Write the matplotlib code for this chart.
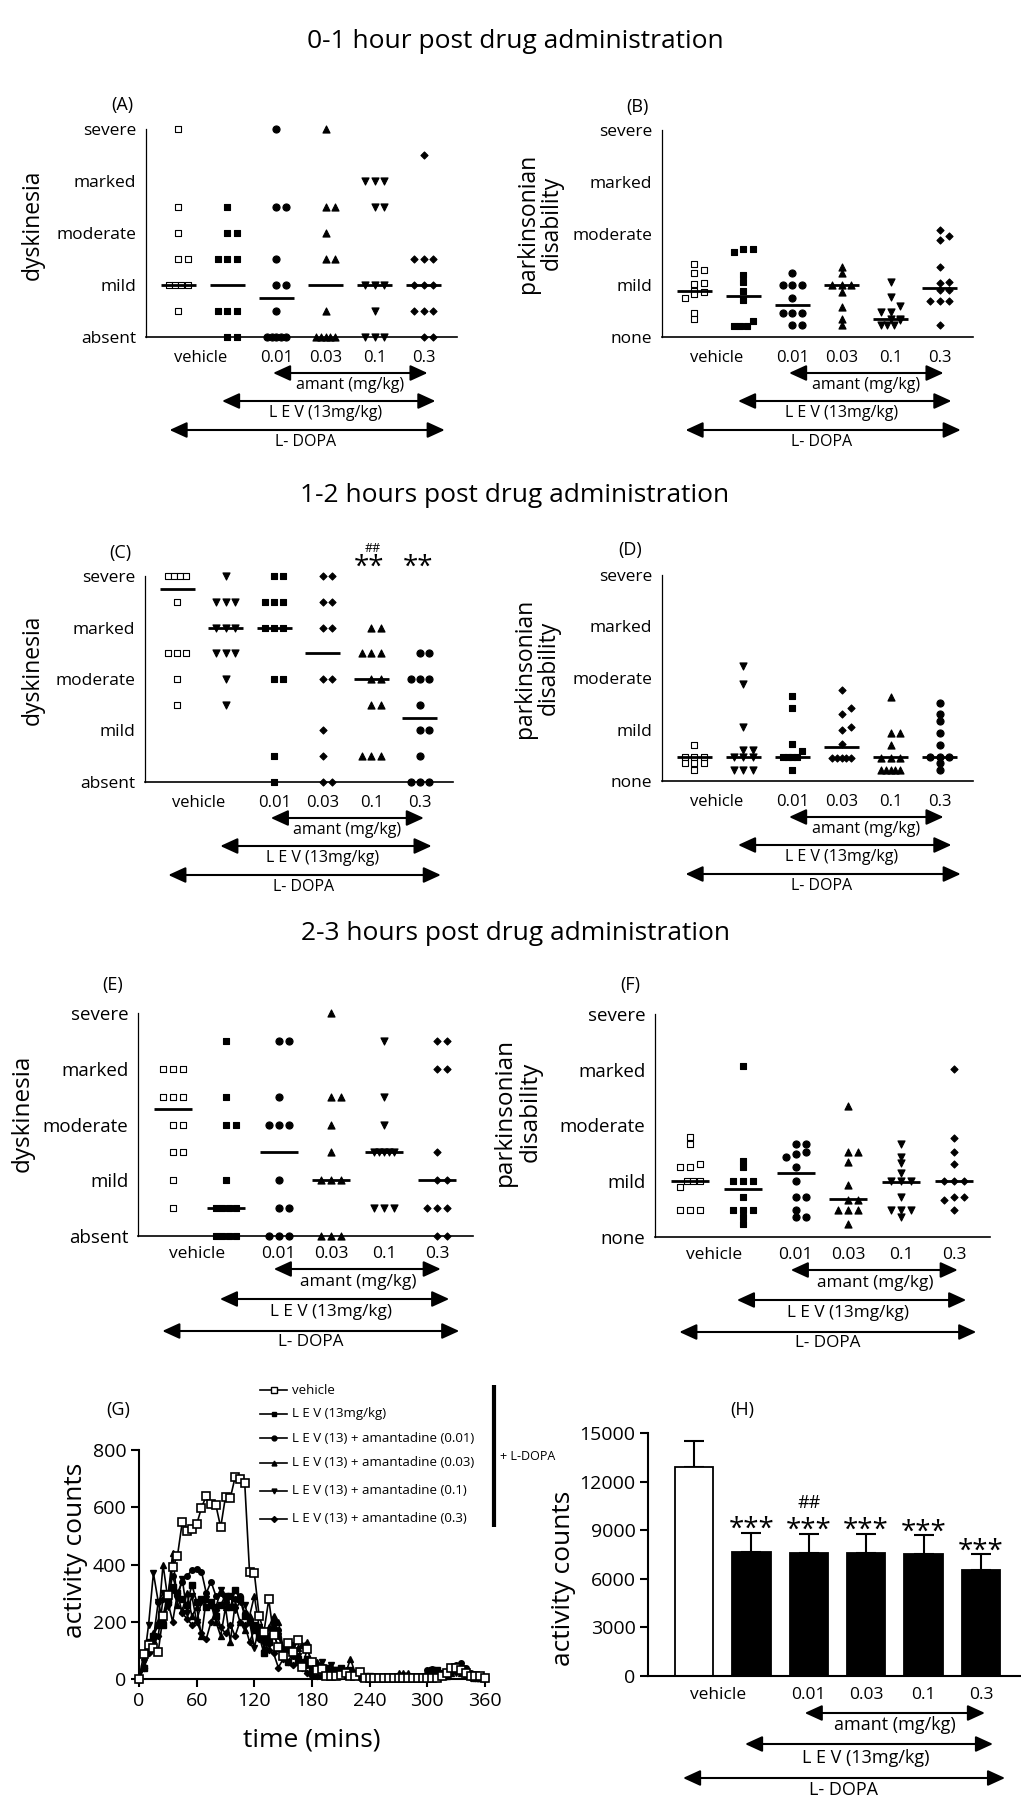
import numpy as np
import matplotlib.pyplot as plt
from matplotlib import transforms

plt.rcParams['font.family'] = ['Open Sans', 'DejaVu Sans']

# ---------------- data ----------------
# ordinal scores: 0 = absent/none, 1 = mild, 2 = moderate, 3 = marked, 4 = severe
dysk_levels = ['absent', 'mild', 'moderate', 'marked', 'severe']
park_levels = ['none', 'mild', 'moderate', 'marked', 'severe']
dose_labels = ['0.01', '0.03', '0.1', '0.3']

# 0-1 h
A_vals = [[4, 2.5, 2, 1.5, 1.5, 1, 1, 1, 1, 0.5],
          [2.5, 2, 2, 1.5, 1.5, 1.5, 0.5, 0.5, 0.5, 0, 0],
          [4, 2.5, 2.5, 1.5, 1, 1, 0.5, 0, 0, 0, 0, 0],
          [4, 2.5, 2.5, 2, 1.5, 1.5, 0.5, 0, 0, 0, 0, 0],
          [3, 3, 3, 2.5, 2.5, 1, 1, 1, 0.5, 0, 0, 0],
          [3.5, 1.5, 1.5, 1.5, 1, 1, 1, 0.5, 0.5, 0.5, 0, 0]]
A_med = [1, 1, 0.75, 1, 1, 1]
B_vals = [[1.42, 1.29, 1.24, 1.05, 1.03, 0.88, 0.87, 0.83, 0.76, 0.46, 0.35],
          [1.71, 1.65, 1.71, 1.19, 1.06, 0.89, 0.71, 0.3, 0.22, 0.22, 0.22],
          [1.24, 1.0, 1.0, 1.0, 0.76, 0.46, 0.46, 0.46, 0.23, 0.23],
          [1.35, 1.24, 1.0, 1.0, 1.0, 0.87, 0.58, 0.35, 0.23],
          [1.06, 0.77, 0.59, 0.48, 0.48, 0.35, 0.35, 0.32, 0.23, 0.23, 0.23],
          [2.06, 1.95, 1.88, 1.35, 1.06, 1.05, 0.9, 0.9, 0.7, 0.7, 0.7, 0.23]]
B_med = [0.88, 0.79, 0.61, 1.0, 0.35, 0.94]

# 1-2 h
C_vals = [[4, 4, 4, 4, 3.5, 2.5, 2.5, 2.5, 2, 1.5],
          [4, 3.5, 3.5, 3.5, 3, 3, 3, 2.5, 2.5, 2.5, 2, 1.5],
          [4, 4, 3.5, 3.5, 3.5, 3, 3, 3, 2, 2, 0.5, 0],
          [4, 4, 3.5, 3.5, 3, 3, 2, 2, 1, 0.5, 0, 0],
          [3, 3, 2.5, 2.5, 2.5, 2, 2, 1.5, 1.5, 0.5, 0.5, 0.5],
          [2.5, 2.5, 2, 2, 2, 1.5, 1, 1, 0.5, 0, 0, 0]]
C_med = [3.75, 3, 3, 2.5, 2, 1.25]
D_vals = [[0.69, 0.47, 0.47, 0.47, 0.35, 0.35, 0.35, 0.22],
          [2.24, 1.89, 1.05, 0.6, 0.6, 0.47, 0.47, 0.47, 0.22, 0.22, 0.22],
          [1.65, 1.41, 0.71, 0.58, 0.47, 0.47, 0.47, 0.47, 0.22],
          [1.76, 1.41, 1.3, 1.05, 1.0, 0.71, 0.45, 0.45, 0.45, 0.45, 0.45],
          [1.63, 0.93, 0.93, 0.69, 0.45, 0.45, 0.45, 0.22, 0.22, 0.22, 0.22, 0.22],
          [1.52, 1.3, 1.17, 0.93, 0.69, 0.47, 0.47, 0.47, 0.34, 0.22]]
D_med = [0.47, 0.47, 0.47, 0.66, 0.47, 0.47]

# 2-3 h
E_vals = [[3, 3, 3, 2.5, 2.5, 2.5, 2, 2, 1.5, 1.5, 1, 0.5],
          [3.5, 2.5, 2, 2, 1, 0.5, 0.5, 0.5, 0.5, 0, 0, 0, 0],
          [3.5, 3.5, 2.5, 2, 2, 2, 1, 0.5, 0.5, 0, 0, 0],
          [4, 2.5, 2.5, 2, 1.5, 1, 1, 1, 0, 0, 0],
          [3.5, 2.5, 2, 1.5, 1.5, 1.5, 1.5, 1.5, 0.5, 0.5, 0.5],
          [3.5, 3.5, 3, 3, 1.5, 1, 1, 0.5, 0.5, 0.5, 0, 0]]
E_med = [2.27, 0.5, 1.5, 1, 1.5, 1]
F_vals = [[1.8, 1.67, 1.31, 1.26, 1.26, 1.0, 1.0, 1.0, 0.89, 0.48, 0.48, 0.48],
          [3.07, 1.37, 1.25, 1.0, 1.0, 1.0, 0.71, 0.48, 0.48, 0.48, 0.36, 0.24],
          [1.67, 1.67, 1.53, 1.49, 1.44, 1.26, 1.0, 0.71, 0.71, 0.48, 0.36, 0.36],
          [2.35, 1.53, 1.53, 1.35, 0.94, 0.67, 0.67, 0.48, 0.48, 0.48, 0.24],
          [1.67, 1.44, 1.32, 1.14, 1.0, 1.0, 1.0, 0.72, 0.48, 0.48, 0.48, 0.36],
          [3.02, 1.78, 1.53, 1.31, 1.0, 1.0, 1.0, 0.71, 0.71, 0.67, 0.48]]
F_med = [1.0, 0.86, 1.14, 0.68, 0.98, 1.0]

# time course, 5-min bins 0..360
time = np.arange(0, 365, 5)
act_vehicle = [0, 88, 120, 110, 95, 220, 295, 390, 430, 548,
               518, 525, 540, 598, 640, 612, 607, 530, 637, 632,
               705, 698, 685, 375, 370, 220, 165, 278, 155, 112,
               80, 125, 95, 135, 42, 105, 60, 30, 35, 10,
               10, 10, 15, 20, 10, 12, 25, 5, 5, 5,
               5, 5, 5, 5, 5, 5, 5, 5, 5, 5,
               5, 5, 5, 10, 20, 40, 40, 30, 20, 10,
               10, 10, 5]
act_lev = [0, 40, 130, 150, 190, 190, 270, 320, 300, 280,
           260, 330, 270, 280, 250, 270, 220, 260, 290, 250,
           310, 280, 220, 200, 190, 150, 90, 130, 160, 110,
           80, 60, 90, 70, 50, 70, 40, 40, 30, 40,
           20, 30, 40, 20, 30, 20, 10, 10, 10, 5,
           5, 5, 5, 5, 5, 5, 5, 5, 5, 5,
           10, 30, 30, 20, 20, 30, 40, 30, 20, 10,
           10, 5, 5]
act_a001 = [0, 40, 110, 140, 270, 200, 280, 360, 300, 340,
            360, 380, 385, 375, 300, 340, 290, 300, 270, 290,
            280, 290, 230, 200, 170, 170, 150, 150, 200, 170,
            100, 110, 80, 60, 60, 50, 30, 30, 40, 40,
            30, 20, 20, 30, 20, 10, 10, 10, 5, 5,
            5, 5, 5, 5, 5, 10, 10, 10, 10, 10,
            30, 35, 30, 20, 25, 40, 50, 55, 40, 20,
            10, 10, 5]
act_a003 = [0, 50, 100, 160, 200, 400, 280, 440, 260, 240,
            300, 220, 250, 150, 280, 260, 200, 150, 250, 130,
            260, 200, 170, 220, 290, 180, 110, 180, 220, 200,
            110, 110, 90, 110, 120, 130, 20, 60, 50, 40,
            20, 20, 30, 20, 70, 20, 10, 10, 5, 5,
            5, 10, 10, 10, 20, 20, 20, 10, 10, 10,
            10, 10, 10, 10, 10, 20, 30, 20, 20, 10,
            5, 5, 5]
act_a01 = [0, 60, 190, 370, 270, 300, 250, 310, 280, 350,
           230, 290, 200, 270, 280, 260, 250, 310, 270, 290,
           240, 270, 260, 200, 110, 180, 130, 120, 180, 150,
           100, 100, 120, 80, 60, 60, 40, 30, 60, 40,
           50, 30, 20, 10, 10, 10, 5, 5, 5, 5,
           5, 5, 5, 5, 5, 5, 5, 5, 5, 5,
           5, 10, 10, 10, 10, 20, 20, 30, 10, 5,
           5, 5, 5]
act_a03 = [0, 40, 90, 130, 150, 280, 270, 200, 300, 230,
           210, 190, 200, 160, 140, 200, 240, 180, 160, 190,
           150, 200, 190, 130, 170, 140, 130, 100, 90, 40,
           70, 60, 50, 60, 40, 20, 10, 10, 10, 10,
           10, 10, 10, 10, 10, 10, 5, 5, 5, 5,
           5, 5, 5, 5, 5, 5, 5, 5, 5, 5,
           5, 5, 5, 10, 10, 20, 30, 20, 10, 5,
           5, 5, 5]
legend_labels = ['vehicle', 'L E V (13mg/kg)', 'L E V (13) + amantadine (0.01)',
                 'L E V (13) + amantadine (0.03)', 'L E V (13) + amantadine (0.1)',
                 'L E V (13) + amantadine (0.3)']

# total activity
total_mean = [12900, 7660, 7620, 7620, 7560, 6540]
total_sem = [1610, 1190, 1170, 1150, 1130, 970]

# ---------------- layout ----------------
W, H = 1021, 1800
fig = plt.figure(figsize=(W / 100, H / 100), dpi=100)


def rect(l, t, r, b):
    return [l / W, 1 - b / H, (r - l) / W, (b - t) / H]


ov = fig.add_axes([0, 0, 1, 1], zorder=10)
ov.set_xlim(0, W)
ov.set_ylim(H, 0)
ov.axis('off')

marker_shape = {'open': 's', 's': 's', 'o': 'o', '^': '^', 'v': 'v', 'D': 'D'}
marker_size = {'open': 22, 's': 22, 'o': 26, '^': 26, 'v': 26, 'D': 13}
order1 = ['open', 's', 'o', '^', 'v', 'D']
order2 = ['open', 'v', 's', 'D', '^', 'o']


def spread(v, tol=0.11, d=0.19):
    # column scatter: points closer than a marker height share a row
    v = np.asarray(v, float)
    idx = np.argsort(v, kind='stable')
    rows = []
    for i in idx:
        if rows and v[i] - v[rows[-1][0]] < tol:
            rows[-1].append(i)
        else:
            rows.append([i])
    off = np.zeros(len(v))
    for row in rows:
        n = len(row)
        if n == 1:
            o = [0.0]
        elif n == 2:
            o = [0.0, d]
        else:
            step = min(d, 0.38 / (n - 1))
            o = (np.arange(n) - (n - 1) / 2) * step
        for k, i in enumerate(row):
            off[i] = o[k]
    return off


def arrow(tr, x0, x1, y):
    ov.annotate('', xy=(x1, y), xytext=(x0, y), xycoords=tr, textcoords=tr,
                arrowprops=dict(arrowstyle='<|-|>,head_length=0.7,head_width=0.32',
                                mutation_scale=15, lw=1.5, color='black',
                                shrinkA=0, shrinkB=0))


def dose_axis(ax, bottom, offs, xs, fs_tick, fs_arr, veh_x=0.45):
    tr = transforms.blended_transform_factory(ax.transData, ov.transData)
    t0, a0, a1, l0, l1, d0, d1 = offs
    ov.text(veh_x, bottom + t0, 'vehicle', transform=tr, ha='center', va='center', fontsize=fs_tick)
    for k, lab in enumerate(dose_labels):
        ov.text(2 + k, bottom + t0, lab, transform=tr, ha='center', va='center', fontsize=fs_tick)
    (ax0, ax1), (lx0, lx1), (dx0, dx1) = xs
    arrow(tr, ax0, ax1, bottom + a0)
    ov.text(3.5, bottom + a1, 'amant (mg/kg)', transform=tr, ha='center', va='center', fontsize=fs_arr)
    arrow(tr, lx0, lx1, bottom + l0)
    ov.text(3.0, bottom + l1, 'L E V (13mg/kg)', transform=tr, ha='center', va='center', fontsize=fs_arr)
    arrow(tr, dx0, dx1, bottom + d0)
    ov.text(2.6, bottom + d1, 'L- DOPA', transform=tr, ha='center', va='center', fontsize=fs_arr)


def score_panel(box, vals, meds, marks, levels, fs_tick, big=False):
    l, t, r, b = box
    ax = fig.add_axes(rect(l, t, r, b))
    ax.set_xlim(-0.66, 5.68)
    ax.set_ylim(0, 4)
    for sp in ['top', 'right']:
        ax.spines[sp].set_visible(False)
    ax.spines['left'].set_linewidth(0.9)
    ax.spines['bottom'].set_linewidth(1.2)
    ax.set_yticks(range(5))
    ax.set_yticklabels(levels, fontsize=fs_tick)
    ax.tick_params(axis='y', length=0, pad=7)
    ax.set_xticks([])
    for i, (v, m) in enumerate(zip(vals, marks)):
        v = np.asarray(v, float)
        ax.scatter(i + spread(v), v, marker=marker_shape[m], s=marker_size[m],
                   facecolor='white' if m == 'open' else 'black', edgecolor='black',
                   linewidth=0.8, clip_on=False, zorder=3)
        ax.plot([i - 0.36, i + 0.36], [meds[i], meds[i]], color='black', lw=2,
                solid_capstyle='butt', clip_on=False, zorder=4)
    if big:
        dose_axis(ax, b, (18, 33, 46, 63, 76, 95, 106),
                  ((1.91, 5.07), (0.89, 5.23), (-0.2, 5.42)), 12.5, 12.3)
    else:
        dose_axis(ax, b, (21, 36, 48, 64, 76, 93, 105),
                  ((1.93, 5.08), (0.89, 5.24), (-0.18, 5.43)), 12, 11.5)
    return ax


# titles
ov.text(515, 42, '0-1 hour post drug administration', ha='center', va='center', fontsize=19)
ov.text(515, 495, '1-2 hours post drug administration', ha='center', va='center', fontsize=19)
ov.text(515, 934, '2-3 hours post drug administration', ha='center', va='center', fontsize=19)

axA = score_panel((146, 129, 457, 337), A_vals, A_med, order1, dysk_levels, 12.5)
axB = score_panel((662, 130, 973, 337), B_vals, B_med, order1, park_levels, 12.5)
axC = score_panel((145, 576, 453, 782), C_vals, C_med, order2, dysk_levels, 12.5)
axD = score_panel((662, 575, 973, 781), D_vals, D_med, order2, park_levels, 12.5)
axE = score_panel((138, 1013, 473, 1236), E_vals, E_med, order1, dysk_levels, 13.5, big=True)
axF = score_panel((655, 1014, 990, 1237), F_vals, F_med, order1, park_levels, 13.5, big=True)

# y labels and panel letters
ov.text(33, 225, 'dyskinesia', rotation=90, ha='center', va='center', fontsize=16.5)
ov.text(540, 223, 'parkinsonian\ndisability', rotation=90, ha='center', va='center',
        fontsize=16.5, linespacing=1.0, multialignment='center')
ov.text(33, 670, 'dyskinesia', rotation=90, ha='center', va='center', fontsize=16.5)
ov.text(537, 668, 'parkinsonian\ndisability', rotation=90, ha='center', va='center',
        fontsize=16.5, linespacing=1.0, multialignment='center')
ov.text(23, 1113, 'dyskinesia', rotation=90, ha='center', va='center', fontsize=17.5)
ov.text(518, 1112, 'parkinsonian\ndisability', rotation=90, ha='center', va='center',
        fontsize=17.5, linespacing=1.1, multialignment='center')
for lab, x, y in [('(A)', 122, 105), ('(B)', 637, 107), ('(C)', 120, 553), ('(D)', 630, 550),
                  ('(E)', 113, 985), ('(F)', 630, 985), ('(G)', 118, 1410), ('(H)', 742, 1410)]:
    ov.text(x, y, lab, ha='center', va='center', fontsize=13)

# significance marks in C
trC = transforms.blended_transform_factory(axC.transData, ov.transData)
ov.text(3.95, 568, '**', transform=trC, ha='center', va='center', fontsize=20)
ov.text(4.96, 568, '**', transform=trC, ha='center', va='center', fontsize=20)
ov.text(4.02, 548, '##', transform=trC, ha='center', va='center', fontsize=9)

# ---------------- G: time course ----------------
axG = fig.add_axes(rect(139, 1450, 485, 1679))
series = [act_lev, act_a001, act_a003, act_a01, act_a03]
gmarks = ['s', 'o', '^', 'v', 'D']
gms = [4, 4, 4, 4, 3.2]
for y, m, ms in zip(series, gmarks, gms):
    axG.plot(time, y, color='black', lw=1.2, marker=m, ms=ms, mfc='black', mec='black',
             clip_on=False, zorder=3)
axG.plot(time, act_vehicle, color='black', lw=1.2, marker='s', ms=6, mfc='white', mec='black',
         mew=1.2, clip_on=False, zorder=4)
axG.set_xlim(0, 360)
axG.set_ylim(0, 800)
axG.set_xticks(range(0, 361, 60))
axG.set_yticks(range(0, 801, 200))
for sp in ['top', 'right']:
    axG.spines[sp].set_visible(False)
for sp in ['left', 'bottom']:
    axG.spines[sp].set_linewidth(1.5)
axG.tick_params(direction='out', length=6, width=1.5, labelsize=14, pad=3)
ov.text(312, 1740, 'time (mins)', ha='center', va='center', fontsize=19)
ov.text(75, 1550, 'activity counts', rotation=90, ha='center', va='center', fontsize=19)

# legend for G
leg_y = [1390, 1414, 1438, 1463, 1491, 1519]
leg_m = [('s', 'white', 5), ('s', 'black', 3.5), ('o', 'black', 3.5),
         ('^', 'black', 3.5), ('v', 'black', 3.5), ('D', 'black', 3)]
for y, (m, fc, ms), lab in zip(leg_y, leg_m, legend_labels):
    ov.plot([260, 287], [y, y], color='black', lw=1.2)
    ov.plot([273.5], [y], marker=m, ms=ms, mfc=fc, mec='black', mew=1)
    ov.text(292, y, lab, ha='left', va='center', fontsize=9.5)
ov.plot([494, 494], [1385, 1527], color='black', lw=3, solid_capstyle='butt')
ov.text(500, 1456, '+ L-DOPA', ha='left', va='center', fontsize=9)

# ---------------- H: total activity ----------------
axH = fig.add_axes(rect(648, 1433, 1020, 1676))
xh = np.arange(6)
axH.bar(xh, total_mean, width=0.67, color=['white'] + ['black'] * 5, edgecolor='black',
        linewidth=1.3, zorder=2)
axH.errorbar(xh, total_mean, yerr=[np.zeros(6), total_sem], fmt='none', ecolor='black',
             elinewidth=1.5, capsize=7, capthick=1.5, zorder=1)
axH.set_xlim(-0.8, 5.68)
axH.set_ylim(0, 15000)
axH.set_yticks(range(0, 15001, 3000))
axH.set_xticks([])
for sp in ['top', 'right']:
    axH.spines[sp].set_visible(False)
for sp in ['left', 'bottom']:
    axH.spines[sp].set_linewidth(1.5)
axH.tick_params(direction='out', length=6, width=1.5, labelsize=14, pad=3)
ov.text(563, 1578, 'activity counts', rotation=90, ha='center', va='center', fontsize=19)
for i in range(1, 6):
    axH.annotate('***', xy=(i, total_mean[i] + total_sem[i]), xytext=(0, 2),
                 textcoords='offset points', ha='center', va='center', fontsize=20)
axH.annotate('##', xy=(2, total_mean[2] + total_sem[2]), xytext=(0, 22),
             textcoords='offset points', ha='center', va='center', fontsize=13)
dose_axis(axH, 1676, (19, 37, 49, 68, 82, 102, 114),
          ((1.93, 5.07), (0.89, 5.21), (-0.19, 5.42)), 12.5, 13, veh_x=0.42)

fig.savefig('out.png', dpi=100)
